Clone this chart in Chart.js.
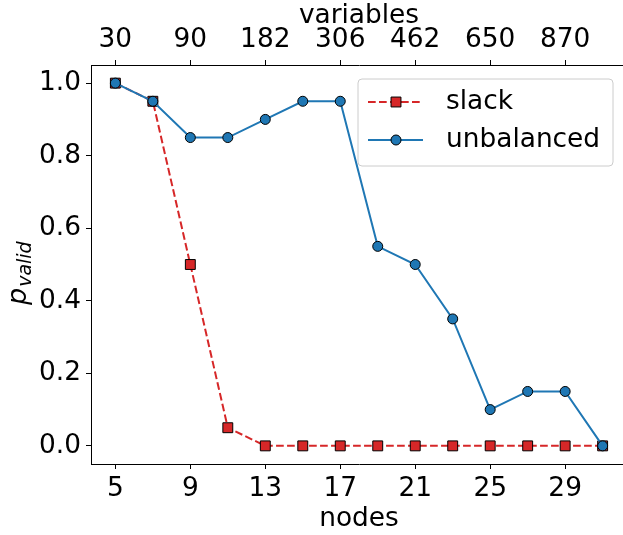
<!DOCTYPE html>
<html>
<head>
<meta charset="utf-8">
<script src="https://cdn.jsdelivr.net/npm/chart.js@4/dist/chart.umd.min.js"></script>
<style>
html, body { margin: 0; padding: 0; background: #fff; overflow: hidden; }
#wrap { width: 627px; height: 535px; }
</style>
</head>
<body>
<div id="wrap"><canvas id="pvalidChart" width="627" height="535"></canvas></div>
<script>
//colors
var red = '#d62728';
var blue = '#1f77b4';
var family = '"DejaVu Sans", sans-serif';

//data
const nodes = [5, 7, 9, 11, 13, 15, 17, 19, 21, 23, 25, 27, 29, 31];
const slackValues = [1.0, 0.95, 0.5, 0.05, 0, 0, 0, 0, 0, 0, 0, 0, 0, 0];
const unbalancedValues = [1.0, 0.95, 0.85, 0.85, 0.9, 0.95, 0.95, 0.55, 0.5, 0.35, 0.1, 0.15, 0.15, 0];
const nodeTicks = [5, 9, 13, 17, 21, 25, 29];
const variableTicks = [30, 90, 182, 306, 462, 650, 870];
const yTicks = [0, 0.2, 0.4, 0.6, 0.8, 1.0];

const fontSize = 26.4;
const tickFont = { family: family, size: fontSize, lineHeight: 1.2 };

// legend inside the axes + the p_valid label
const extras = {
  id: 'extras',
  afterDraw(chart) {
    const ctx = chart.ctx;
    ctx.save();
    ctx.fillStyle = '#000';
    ctx.translate(26, 305);
    ctx.rotate(-Math.PI / 2);
    ctx.textAlign = 'left';
    ctx.textBaseline = 'alphabetic';
    ctx.font = 'italic 27px ' + family;
    ctx.fillText('p', 0, 0);
    const pw = ctx.measureText('p').width;
    ctx.font = 'italic 19px ' + family;
    ctx.fillText('valid', pw + 1, 5);
    ctx.restore();

    // legend box
    const x0 = 358, y0 = 79, x1 = 613, y1 = 166, r = 4;
    ctx.save();
    ctx.beginPath();
    ctx.moveTo(x0 + r, y0);
    ctx.arcTo(x1, y0, x1, y1, r);
    ctx.arcTo(x1, y1, x0, y1, r);
    ctx.arcTo(x0, y1, x0, y0, r);
    ctx.arcTo(x0, y0, x1, y0, r);
    ctx.closePath();
    ctx.fillStyle = 'rgba(255,255,255,0.8)';
    ctx.fill();
    ctx.strokeStyle = '#cccccc';
    ctx.lineWidth = 1;
    ctx.stroke();

    const rows = [102, 140];
    chart.data.datasets.forEach(function (ds, i) {
      const y = rows[i];
      ctx.beginPath();
      ctx.setLineDash(ds.borderDash || []);
      ctx.strokeStyle = ds.borderColor;
      ctx.lineWidth = ds.borderWidth;
      ctx.moveTo(368, y);
      ctx.lineTo(423, y);
      ctx.stroke();
      ctx.setLineDash([]);
      ctx.fillStyle = ds.pointBackgroundColor;
      ctx.strokeStyle = ds.pointBorderColor;
      ctx.lineWidth = ds.pointBorderWidth;
      ctx.beginPath();
      if (ds.pointStyle === 'rect') {
        const h = ds.pointRadius * Math.SQRT1_2;
        ctx.rect(396 - h, y - h, 2 * h, 2 * h);
      } else {
        ctx.arc(396, y, ds.pointRadius, 0, Math.PI * 2);
      }
      ctx.fill();
      ctx.stroke();
      ctx.fillStyle = '#000';
      ctx.font = fontSize + 'px ' + family;
      ctx.textAlign = 'left';
      ctx.textBaseline = 'middle';
      ctx.fillText(ds.label, 446, y);
    });
    ctx.restore();
  }
};

new Chart(document.getElementById('pvalidChart'), {
  type: 'line',
  data: {
    datasets: [{
      label: 'slack',
      data: nodes.map((n, i) => ({ x: n, y: slackValues[i] })),
      borderColor: red,
      borderWidth: 2,
      borderDash: [7.7, 3.3],
      pointStyle: 'rect',
      pointRadius: 7,
      pointBackgroundColor: red,
      pointBorderColor: '#000',
      pointBorderWidth: 1,
      order: 1
    }, {
      label: 'unbalanced',
      data: nodes.map((n, i) => ({ x: n, y: unbalancedValues[i] })),
      borderColor: blue,
      borderWidth: 2,
      pointStyle: 'circle',
      pointRadius: 5,
      pointBackgroundColor: blue,
      pointBorderColor: '#000',
      pointBorderWidth: 1,
      order: 0
    }]
  },
  options: {
    responsive: false,
    animation: false,
    layout: { padding: 0, autoPadding: false },
    plugins: { legend: { display: false }, tooltip: { enabled: false } },
    scales: {
      x: {
        type: 'linear', position: 'bottom', min: 3.7, max: 32.3,
        afterBuildTicks: s => { s.ticks = nodeTicks.map(v => ({ value: v })); },
        afterFit: s => { s.height = 71; },
        ticks: { color: '#000', font: tickFont, padding: 4, maxRotation: 0, autoSkip: false },
        grid: { drawOnChartArea: false, drawTicks: true, tickLength: 5, color: '#000' },
        border: { display: true, color: '#000', width: 1 },
        title: { display: true, text: 'nodes', color: '#000', font: tickFont, padding: 0 }
      },
      x2: {
        type: 'linear', axis: 'x', position: 'top', min: 3.7, max: 32.3,
        afterBuildTicks: s => { s.ticks = nodeTicks.map(v => ({ value: v })); },
        afterFit: s => { s.height = 65; },
        ticks: {
          color: '#000', font: tickFont, padding: 4, maxRotation: 0, autoSkip: false,
          callback: v => variableTicks[nodeTicks.indexOf(v)]
        },
        grid: { drawOnChartArea: false, drawTicks: true, tickLength: 5, color: '#000' },
        border: { display: true, color: '#000', width: 1 },
        title: { display: true, text: 'variables', color: '#000', font: tickFont, padding: 0 }
      },
      y: {
        type: 'linear', min: -0.05, max: 1.05,
        afterBuildTicks: s => { s.ticks = yTicks.map(v => ({ value: v })); },
        afterFit: s => { s.width = 91; },
        ticks: { color: '#000', font: tickFont, padding: 5, callback: v => v.toFixed(1) },
        grid: { drawOnChartArea: false, drawTicks: true, tickLength: 5, color: '#000' },
        border: { display: true, color: '#000', width: 1 }
      }
    }
  },
  plugins: [extras]
});
</script>
</body>
</html>
